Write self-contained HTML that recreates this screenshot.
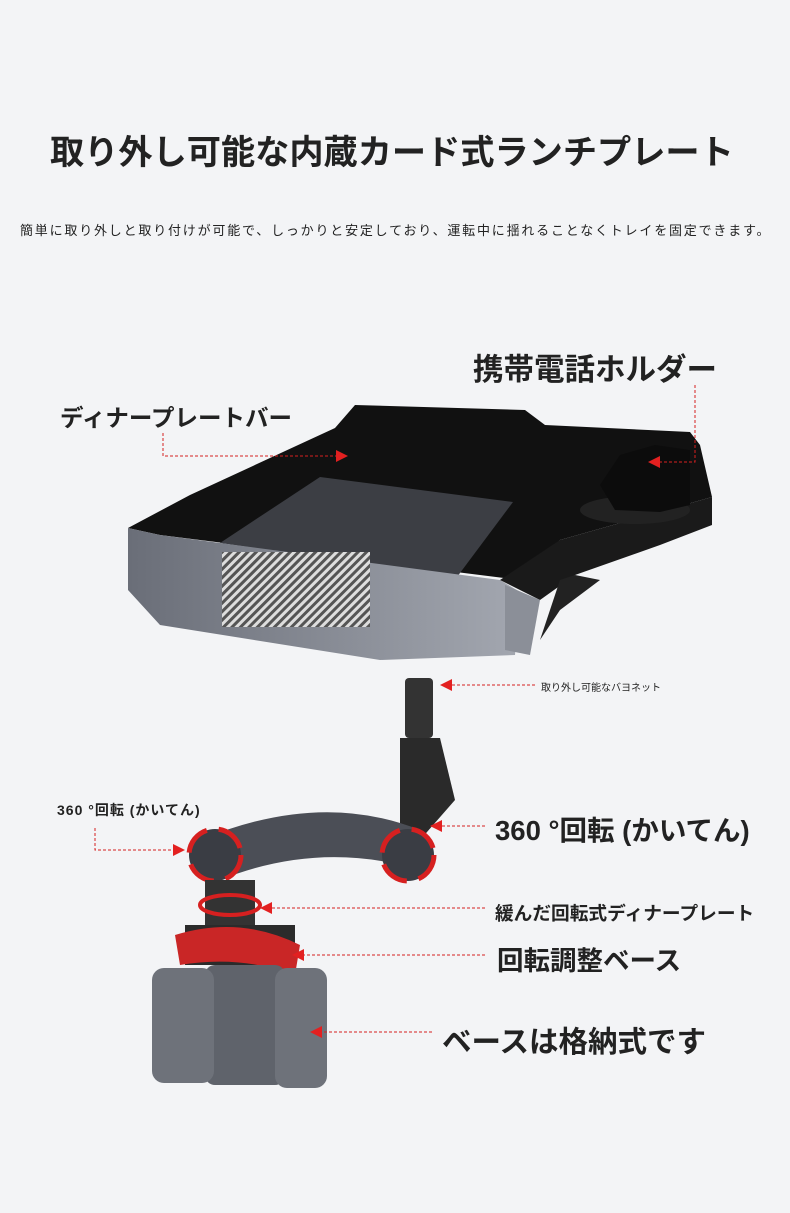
<!DOCTYPE html>
<html><head><meta charset="utf-8"><style>
body{margin:0;width:790px;height:1213px;background:#f3f4f6;overflow:hidden;position:relative;font-family:"Liberation Sans","Noto Sans CJK JP",sans-serif;color:#222}
.t{position:absolute;white-space:nowrap;font-weight:bold}
svg{position:absolute;left:0;top:0}
</style></head><body>
<svg width="790" height="1213">
<defs>
<pattern id="cb" width="6" height="6" patternUnits="userSpaceOnUse" patternTransform="rotate(-45)"><rect width="6" height="6" fill="#ddd"/><rect width="6" height="3" fill="#555"/></pattern>
<linearGradient id="g1" x1="0" x2="1"><stop offset="0" stop-color="#6a6e78"/><stop offset="1" stop-color="#a3a7b0"/></linearGradient>
</defs>
<polygon points="128,528 190,495 335,428 355,405 525,410 545,425 690,432 700,445 712,497 560,540 520,580 160,535" fill="#111"/>
<polygon points="220,543 320,477 513,502 457,577" fill="#3c3e44"/>
<polygon points="128,528 160,535 500,580 520,592 515,655 380,660 160,625 128,590" fill="url(#g1)"/>
<polygon points="500,580 560,540 712,497 712,525 660,545 575,575 540,600" fill="#1a1a1a"/>
<polygon points="575,575 560,580 540,640 560,610 600,580" fill="#222"/>
<polygon points="505,585 540,600 530,655 505,650" fill="#8b8f98"/>
<rect x="222" y="552" width="148" height="75" fill="url(#cb)"/>
<ellipse cx="635" cy="510" rx="55" ry="14" fill="#222"/>
<polygon points="600,485 620,455 655,445 690,450 690,505 660,512 615,510" fill="#0c0c0c"/>
<rect x="405" y="678" width="28" height="60" rx="4" fill="#333"/>
<polygon points="400,738 440,738 455,800 420,840 400,830" fill="#2a2a2a"/>
<path d="M200,840 Q320,790 420,830 L420,870 Q320,840 220,880 Z" fill="#4b4e56"/>
<circle cx="215" cy="855" r="26" fill="#3a3d44" stroke="#d62020" stroke-width="5" stroke-dasharray="30 12"/>
<circle cx="408" cy="855" r="26" fill="#3a3d44" stroke="#d62020" stroke-width="5" stroke-dasharray="30 12"/>
<rect x="205" y="880" width="50" height="45" fill="#333"/>
<ellipse cx="230" cy="905" rx="30" ry="10" fill="none" stroke="#d62020" stroke-width="4"/>
<rect x="185" y="925" width="110" height="40" fill="#2b2b2b"/>
<path d="M175,935 Q240,915 300,945 L295,975 Q240,955 180,965Z" fill="#c92626"/>
<rect x="205" y="965" width="80" height="120" rx="10" fill="#5f636b"/>
<rect x="152" y="968" width="62" height="115" rx="12" fill="#6e727a"/>
<rect x="275" y="968" width="52" height="120" rx="12" fill="#6e727a"/>
<g stroke="#d62020" stroke-width="1" stroke-dasharray="3 2" fill="none">
<polyline points="163,433 163,456 340,456"/>
<polyline points="695,385 695,462 660,462"/>
<polyline points="535,685 450,685"/>
<polyline points="95,828 95,850 175,850"/>
<polyline points="485,826 440,826"/>
<polyline points="485,908 270,908"/>
<polyline points="485,955 300,955"/>
<polyline points="432,1032 320,1032"/>
</g>
<g fill="#e32020">
<polygon points="348,456 336,450 336,462"/>
<polygon points="648,462 660,456 660,468"/>
<polygon points="440,685 452,679 452,691"/>
<polygon points="185,850 173,844 173,856"/>
<polygon points="430,826 442,820 442,832"/>
<polygon points="260,908 272,902 272,914"/>
<polygon points="292,955 304,949 304,961"/>
<polygon points="310,1032 322,1026 322,1038"/>
</g>
</svg>
<div class="t" style="left:50px;top:124px;font-size:34.2px">取り外し可能な内蔵カード式ランチプレート</div>
<div class="t" style="left:20px;top:220px;font-size:13px;font-weight:normal;letter-spacing:1.8px">簡単に取り外しと取り付けが可能で、しっかりと安定しており、運転中に揺れることなくトレイを固定できます。</div>
<div class="t" style="left:473px;top:345px;font-size:30.5px">携帯電話ホルダー</div>
<div class="t" style="left:60px;top:399px;font-size:23.5px">ディナープレートバー</div>
<div class="t" style="left:541px;top:679px;font-size:10px;font-weight:normal">取り外し可能なバヨネット</div>
<div class="t" style="left:57px;top:800px;font-size:14px;letter-spacing:1px">360 °回転 (かいてん)</div>
<div class="t" style="left:495px;top:808px;font-size:27.5px">360 °回転 (かいてん)</div>
<div class="t" style="left:495px;top:899px;font-size:18.7px">緩んだ回転式ディナープレート</div>
<div class="t" style="left:497px;top:939px;font-size:26.5px">回転調整ベース</div>
<div class="t" style="left:442px;top:1019px;font-size:29.5px">ベースは格納式です</div>
</body></html>
